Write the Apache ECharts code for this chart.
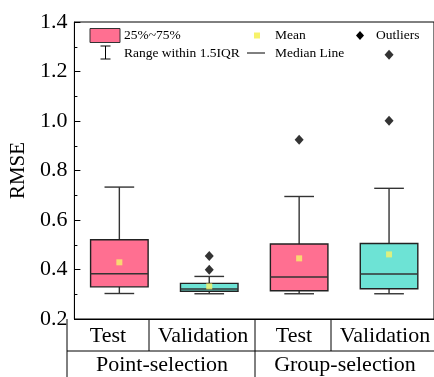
<!DOCTYPE html>
<html>
<head>
<meta charset="utf-8">
<script src="https://cdn.jsdelivr.net/npm/echarts@6/dist/echarts.min.js"></script>
<style>
  html, body { margin: 0; padding: 0; background: #fff; }
  #boxChart { width: 434px; height: 377px; }
</style>
</head>
<body>
<div id="boxChart"></div>
<script>
// categories (sub labels under each box, group labels below)
var categories = ['Point Test', 'Point Validation', 'Group Test', 'Group Validation'];
var subLabels = ['Test', 'Validation', 'Test', 'Validation'];
var groupLabels = ['Point-selection', 'Group-selection'];

// [lower whisker, Q1, median, Q3, upper whisker]
var boxStats = [
    [0.303, 0.330, 0.383, 0.520, 0.733],
    [0.302, 0.312, 0.321, 0.344, 0.372],
    [0.302, 0.314, 0.370, 0.503, 0.695],
    [0.302, 0.322, 0.382, 0.505, 0.728]
];
var means = [0.429, 0.332, 0.445, 0.461];
// [category index, value]
var outliers = [
    [1, 0.455], [1, 0.399],
    [2, 0.924],
    [3, 1.001], [3, 1.268]
];
var yTicks = { min: 0.2, max: 1.4, interval: 0.2 };

var boxColors = ['#ff6f91', '#6de3d5', '#ff6f91', '#6de3d5'];
var meanColor = '#f7f26a';
var serif = 'Liberation Serif';

var chart = echarts.init(document.getElementById('boxChart'));

var boxData = boxStats.map(function (s, i) { return [i].concat(s); });
var meanData = means.map(function (m, i) { return [i, m]; });

function renderBox(params, api) {
    var i = api.value(0);
    var band = api.size([1, 0])[0];
    var bw = band * 0.64, cw = band * 0.33;
    var pLow = api.coord([i, api.value(1)]);
    var pQ1 = api.coord([i, api.value(2)]);
    var pMed = api.coord([i, api.value(3)]);
    var pQ3 = api.coord([i, api.value(4)]);
    var pHigh = api.coord([i, api.value(5)]);
    var x = pLow[0];
    var lineStyle = { stroke: '#333', lineWidth: 1.4 };
    return {
        type: 'group',
        children: [
            { type: 'line', shape: { x1: x, y1: pQ3[1], x2: x, y2: pHigh[1] }, style: lineStyle },
            { type: 'line', shape: { x1: x, y1: pQ1[1], x2: x, y2: pLow[1] }, style: lineStyle },
            { type: 'line', shape: { x1: x - cw / 2, y1: pHigh[1], x2: x + cw / 2, y2: pHigh[1] }, style: lineStyle },
            { type: 'line', shape: { x1: x - cw / 2, y1: pLow[1], x2: x + cw / 2, y2: pLow[1] }, style: lineStyle },
            { type: 'rect', shape: { x: x - bw / 2, y: pQ3[1], width: bw, height: pQ1[1] - pQ3[1] },
              style: { fill: boxColors[i], stroke: '#222', lineWidth: 1.4 } },
            { type: 'line', shape: { x1: x - bw / 2, y1: pMed[1], x2: x + bw / 2, y2: pMed[1] }, style: lineStyle }
        ]
    };
}

// table under the x axis + legend, drawn as graphic
var graphics = [];
var tLine = { stroke: '#000', lineWidth: 1 };
graphics.push({ type: 'line', shape: { x1: 67, y1: 351, x2: 434, y2: 351 }, style: tLine });
graphics.push({ type: 'line', shape: { x1: 67, y1: 319, x2: 67, y2: 377 }, style: tLine });
graphics.push({ type: 'line', shape: { x1: 149, y1: 319, x2: 149, y2: 351 }, style: tLine });
graphics.push({ type: 'line', shape: { x1: 255, y1: 319, x2: 255, y2: 377 }, style: tLine });
graphics.push({ type: 'line', shape: { x1: 331, y1: 319, x2: 331, y2: 351 }, style: tLine });
var subX = [108, 203, 294, 385];
subLabels.forEach(function (t, i) {
    graphics.push({ type: 'text', x: subX[i], y: 336, style: { text: t, fontFamily: serif, fontSize: 22, fill: '#000', align: 'center', verticalAlign: 'middle' } });
});
var groupX = [162, 345];
groupLabels.forEach(function (t, i) {
    graphics.push({ type: 'text', x: groupX[i], y: 365, style: { text: t, fontFamily: serif, fontSize: 22, fill: '#000', align: 'center', verticalAlign: 'middle' } });
});
// legend
var legText = { fontFamily: serif, fontSize: 13.5, fill: '#000', verticalAlign: 'middle' };
graphics.push({ type: 'rect', shape: { x: 90, y: 28.5, width: 30, height: 14 }, style: { fill: '#ff6f91', stroke: '#333', lineWidth: 1 } });
graphics.push({ type: 'text', x: 124, y: 35.5, style: Object.assign({ text: '25%~75%' }, legText) });
graphics.push({ type: 'line', shape: { x1: 105.5, y1: 46, x2: 105.5, y2: 59 }, style: { stroke: '#000', lineWidth: 1 } });
graphics.push({ type: 'line', shape: { x1: 100.5, y1: 46, x2: 110.5, y2: 46 }, style: { stroke: '#000', lineWidth: 1 } });
graphics.push({ type: 'line', shape: { x1: 100.5, y1: 59, x2: 110.5, y2: 59 }, style: { stroke: '#000', lineWidth: 1 } });
graphics.push({ type: 'text', x: 124, y: 53, style: Object.assign({ text: 'Range within 1.5IQR' }, legText) });
graphics.push({ type: 'rect', shape: { x: 254, y: 32.5, width: 6, height: 6 }, style: { fill: meanColor } });
graphics.push({ type: 'text', x: 275, y: 35.5, style: Object.assign({ text: 'Mean' }, legText) });
graphics.push({ type: 'line', shape: { x1: 247, y1: 53, x2: 265, y2: 53 }, style: { stroke: '#000', lineWidth: 1 } });
graphics.push({ type: 'text', x: 275, y: 53, style: Object.assign({ text: 'Median Line' }, legText) });
graphics.push({ type: 'polygon', shape: { points: [[360, 31], [364, 35.5], [360, 40], [356, 35.5]] }, style: { fill: '#000' } });
graphics.push({ type: 'text', x: 376, y: 35.5, style: Object.assign({ text: 'Outliers' }, legText) });

var option = {
    animation: false,
    grid: {
        left: 67, top: 22, width: 368, bottom: 58,
        show: true, borderColor: '#000', borderWidth: 1, backgroundColor: 'transparent'
    },
    xAxis: {
        type: 'category',
        data: categories,
        axisLine: { show: true, lineStyle: { color: '#000', width: 1 } },
        axisTick: { show: false },
        axisLabel: { show: false },
        splitLine: { show: false }
    },
    yAxis: {
        type: 'value',
        min: yTicks.min,
        max: yTicks.max,
        interval: yTicks.interval,
        name: 'RMSE',
        nameLocation: 'middle',
        nameGap: 42,
        nameTextStyle: { fontFamily: serif, fontSize: 21, color: '#000' },
        axisLine: { show: true, lineStyle: { color: '#000', width: 1 } },
        axisTick: { show: true, inside: true, length: 6, lineStyle: { color: '#000' } },
        minorTick: { show: true, splitNumber: 2, length: 3, lineStyle: { color: '#000' } },
        splitLine: { show: false },
        axisLabel: {
            fontFamily: serif, fontSize: 22, color: '#000', margin: 7,
            formatter: function (v) { return v.toFixed(1); }
        }
    },
    series: [
        {
            name: 'Box',
            type: 'custom',
            renderItem: renderBox,
            encode: { x: 0, y: [1, 2, 3, 4, 5] },
            data: boxData,
            z: 2
        },
        {
            name: 'Mean',
            type: 'scatter',
            symbol: 'rect',
            symbolSize: 6,
            itemStyle: { color: meanColor },
            data: meanData,
            z: 3
        },
        {
            name: 'Outliers',
            type: 'scatter',
            symbol: 'diamond',
            symbolSize: [9, 10],
            itemStyle: { color: '#000' },
            data: outliers,
            z: 3
        }
    ],
    graphic: graphics
};

chart.setOption(option);
</script>
</body>
</html>
